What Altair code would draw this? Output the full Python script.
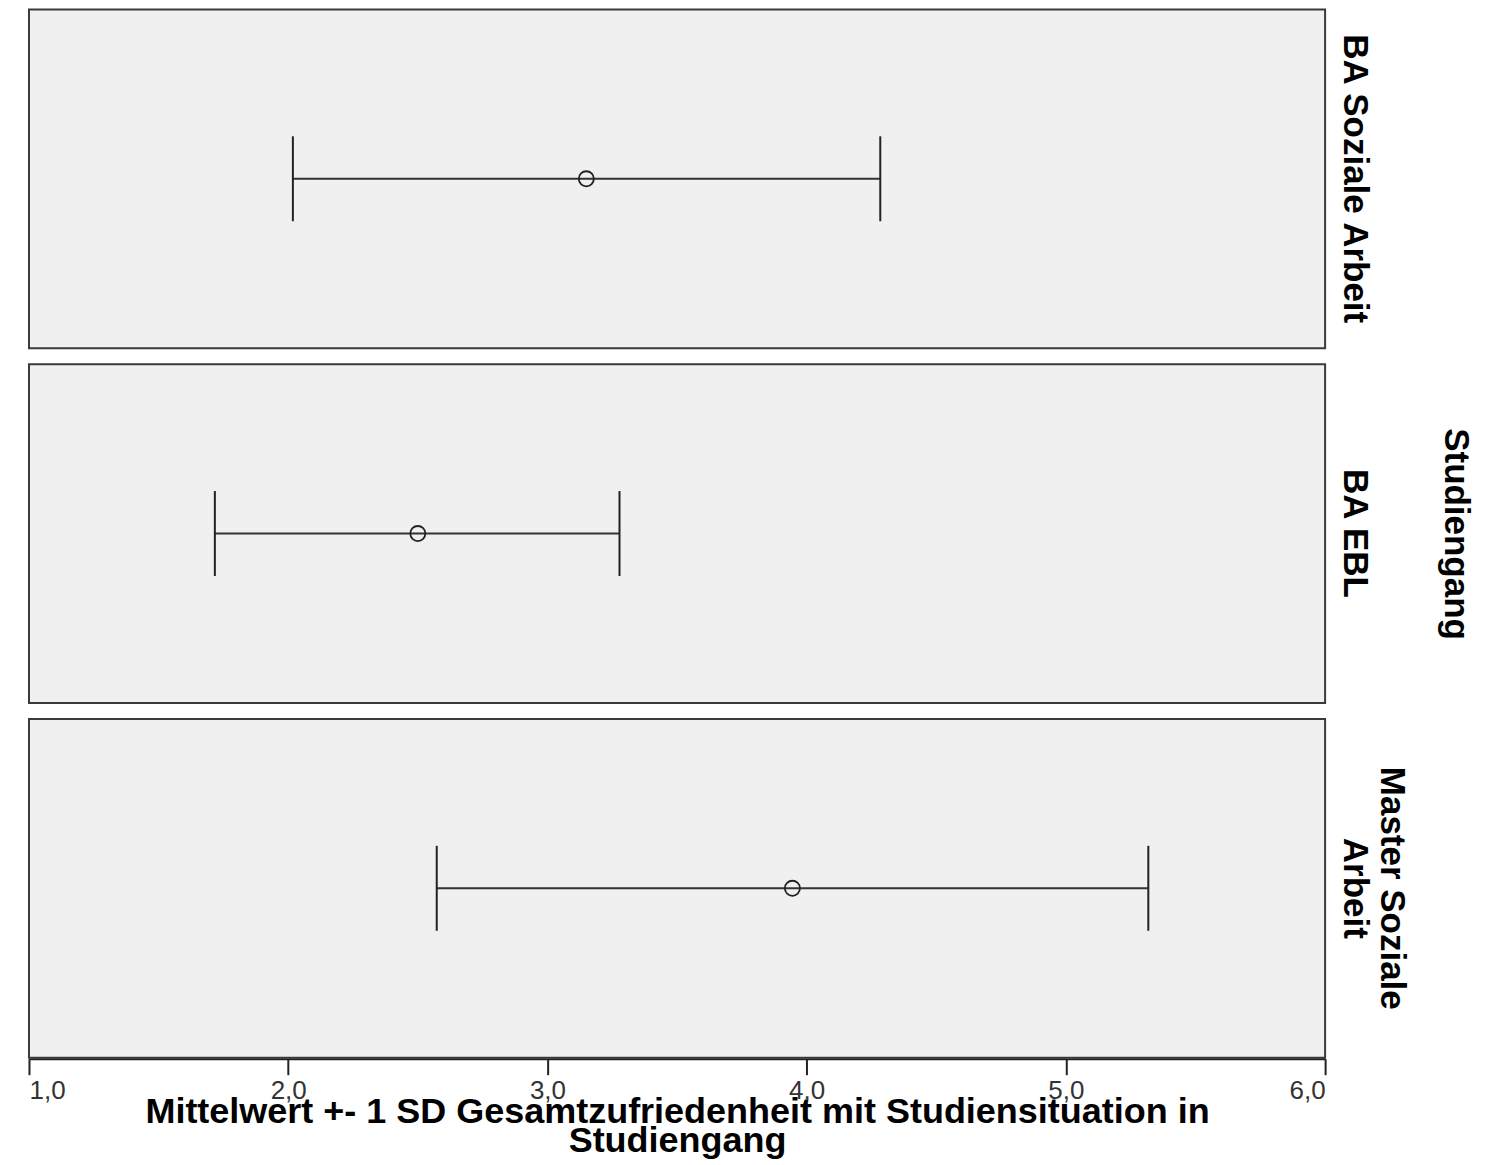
import altair as alt
import pandas as pd

groups = ["BA Soziale Arbeit", "BA EBL", "Master Soziale Arbeit"]
means = [3.15, 2.50, 3.945]
lower = [2.018, 1.717, 2.573]
upper = [4.284, 3.278, 5.318]
x_ticks = [1, 2, 3, 4, 5, 6]

df = pd.DataFrame({"Studiengang": groups, "mean": means, "lo": lower, "hi": upper})

W = 1297
H = 339
FONT = "Liberation Sans"

xscale = alt.Scale(domain=[1, 6], nice=False, zero=False)
xaxis = alt.Axis(
    values=x_ticks,
    labelExpr="replace(format(datum.value, '.1f'), '.', ',')",
    title=["Mittelwert +- 1 SD Gesamtzufriedenheit mit Studiensituation in", "Studiengang"],
    titleFont=FONT, titleFontSize=36, titleFontWeight="bold", titleColor="#000",
    titleLineHeight=29, titleBaseline="alphabetic", titleY=64,
    labelFont=FONT, labelFontSize=26, labelColor="#333", labelPadding=3,
    tickSize=16, tickWidth=2, tickColor="#222",
    domainColor="#222", domainWidth=2, grid=False,
)

base = alt.Chart(df)

rule = base.mark_rule(color="#333", strokeWidth=2).encode(
    x=alt.X("lo:Q", scale=xscale, axis=xaxis),
    x2="hi:Q",
    y=alt.value(H / 2),
)
cap_lo = base.mark_tick(orient="vertical", size=85, thickness=2, color="#222", opacity=1).encode(
    x=alt.X("lo:Q", scale=xscale)
)
cap_hi = base.mark_tick(orient="vertical", size=85, thickness=2, color="#222", opacity=1).encode(
    x=alt.X("hi:Q", scale=xscale)
)
pt = base.mark_point(shape="circle", size=227, filled=False, color="#222", strokeWidth=1.8, opacity=1).encode(
    x=alt.X("mean:Q", scale=xscale),
    y=alt.value(H / 2),
)

layer = alt.layer(rule, cap_lo, cap_hi, pt).properties(width=W, height=H)

chart = layer.facet(
    row=alt.Row(
        "Studiengang:N",
        sort=groups,
        title="Studiengang",
        header=alt.Header(
            labelOrient="right", labelAngle=90, labelFont=FONT, labelFontSize=35,
            labelFontWeight="bold", labelColor="#000", labelPadding=11,
            labelExpr="datum.value == 'Master Soziale Arbeit' ? ['Master Soziale', 'Arbeit'] : datum.value",
            labelLineHeight=37,
            titleOrient="right", titleAngle=90, titleFont=FONT, titleFontSize=35,
            titleFontWeight="bold", titleColor="#000", titlePadding=19,
        ),
    ),
    spacing=14,
).properties(
    padding={"left": 20, "top": 0, "right": 4, "bottom": 0},
    background="#ffffff",
).configure_view(
    fill="#f0f0f0", stroke="#3a3a3a", strokeWidth=2
)

chart.save("out.html", embed_options={"renderer": "svg", "actions": False})
